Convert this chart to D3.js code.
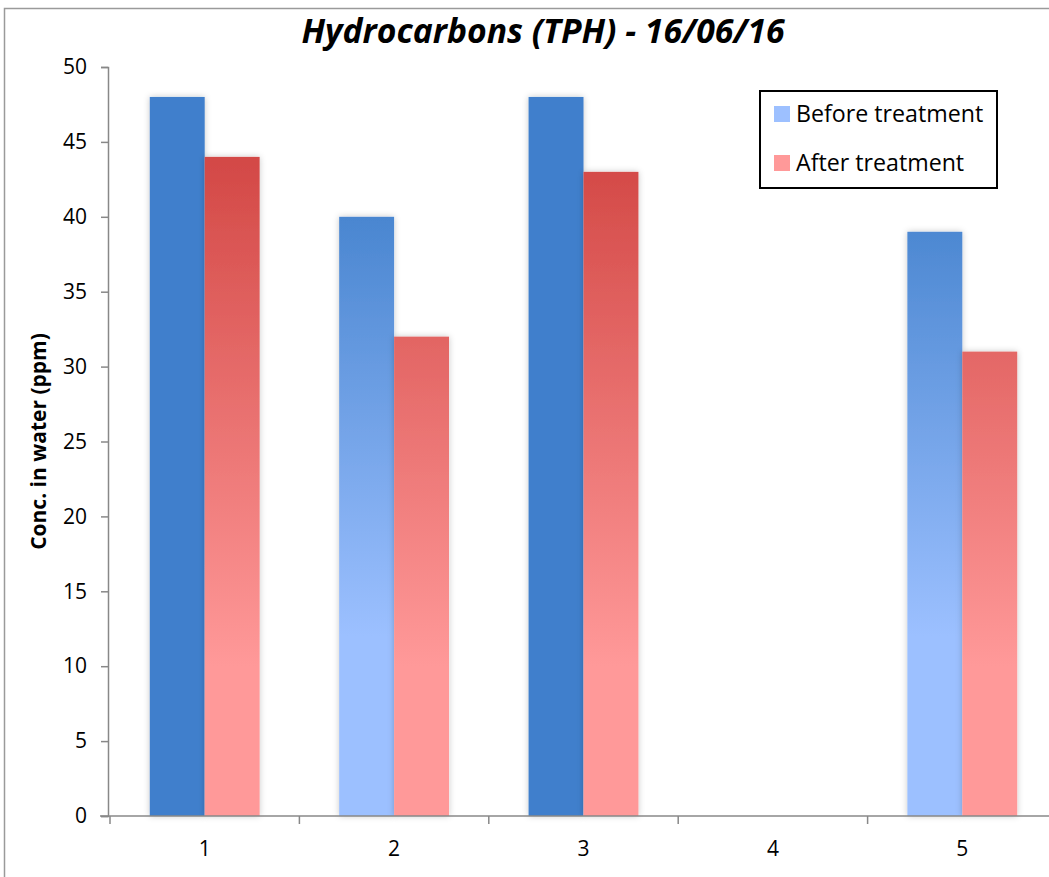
<!DOCTYPE html>
<html>
<head>
<meta charset="utf-8">
<script src="https://cdn.jsdelivr.net/npm/d3@7"></script>
<style>
  html, body { margin: 0; padding: 0; background: #fff; }
  svg { display: block; }
  text { font-family: "Open Sans", Lato, sans-serif; }
</style>
</head>
<body>
<svg id="chart" width="1049" height="877"></svg>
<script>
// Data
const categories = ["1", "2", "3", "4", "5"];
const beforeTreatment = [48, 40, 48, null, 39];
const afterTreatment = [44, 32, 43, null, 31];
const yTicks = [0, 5, 10, 15, 20, 25, 30, 35, 40, 45, 50];
const seriesNames = ["Before treatment", "After treatment"];

// Points of the first series drawn in a flat fill instead of the gradient
const flatBefore = new Set(["1", "3"]);

const svg = d3.select("#chart");
const W = 1049, H = 877;
const margin = { left: 108 };
const plotBottom = 816, plotTop = 67;

// Chart area frame
svg.append("rect")
  .attr("x", 4.5).attr("y", 8.5)
  .attr("width", W + 20).attr("height", H + 20)
  .attr("fill", "#fff").attr("stroke", "#9a9a9a").attr("stroke-width", 1.5);

const defs = svg.append("defs");

const y = d3.scaleLinear().domain([0, 50]).range([plotBottom, plotTop]);
const x = d3.scaleBand().domain(categories).range([110, 1057]).paddingInner(0.42).paddingOuter(0.21);
const xs = d3.scaleBand().domain(seriesNames).range([0, x.bandwidth()]);

// Vertical gradients spanning the value axis
const gBlue = defs.append("linearGradient").attr("id", "gBlue")
  .attr("gradientUnits", "userSpaceOnUse")
  .attr("x1", 0).attr("x2", 0).attr("y1", y(42)).attr("y2", y(12));
gBlue.append("stop").attr("offset", 0).attr("stop-color", "#4482cd");
gBlue.append("stop").attr("offset", 1).attr("stop-color", "#9cc0ff");

const gRed = defs.append("linearGradient").attr("id", "gRed")
  .attr("gradientUnits", "userSpaceOnUse")
  .attr("x1", 0).attr("x2", 0).attr("y1", y(50)).attr("y2", y(10));
gRed.append("stop").attr("offset", 0).attr("stop-color", "#cb3a37");
gRed.append("stop").attr("offset", 1).attr("stop-color", "#ff9999");

const shadow = defs.append("filter").attr("id", "shadow")
  .attr("x", "-30%").attr("y", "-10%").attr("width", "160%").attr("height", "120%");
shadow.append("feDropShadow").attr("dx", 0).attr("dy", 0).attr("stdDeviation", 3)
  .attr("flood-color", "#000").attr("flood-opacity", 0.22);

// Bars
const rows = categories.map((c, i) => ({ c, v: [beforeTreatment[i], afterTreatment[i]] }));
const groups = svg.append("g").selectAll("g").data(rows).join("g")
  .attr("transform", d => `translate(${x(d.c)},0)`);

groups.selectAll("rect")
  .data(d => d.v.map((v, k) => ({ c: d.c, v, s: seriesNames[k], k })).filter(e => e.v != null))
  .join("rect")
  .attr("x", e => xs(e.s))
  .attr("width", xs.bandwidth())
  .attr("y", e => y(e.v))
  .attr("height", e => y(0) - y(e.v))
  .attr("filter", "url(#shadow)")
  .attr("fill", e => e.k === 0 ? (flatBefore.has(e.c) ? "#3f7fcc" : "url(#gBlue)") : "url(#gRed)");

// Y axis
const yAxis = svg.append("g").attr("transform", `translate(${margin.left},0)`)
  .call(d3.axisLeft(y).tickValues(yTicks).tickSize(7).tickPadding(14));
yAxis.select(".domain").attr("stroke", "#888").attr("stroke-width", 1.5);
yAxis.selectAll(".tick line").attr("stroke", "#888").attr("stroke-width", 1.5);
yAxis.selectAll(".tick text").attr("font-size", 21).attr("fill", "#000")
  .style("font-family", "'Open Sans', sans-serif");

// X axis
const xAxis = svg.append("g").attr("transform", `translate(0,${plotBottom})`)
  .call(d3.axisBottom(x).tickSize(0).tickPadding(25));
xAxis.select(".domain").attr("stroke", "#888").attr("stroke-width", 1.5)
  .attr("d", `M${margin.left - 8},0H${W + 10}`);
xAxis.selectAll(".tick text").attr("font-size", 21).attr("fill", "#000")
  .style("font-family", "'Open Sans', sans-serif");
// category boundary ticks
const bounds = categories.map(c => x(c) - x.step() * x.paddingInner() / 2);
xAxis.selectAll(".bound").data(bounds).join("line").attr("class", "bound")
  .attr("x1", d => d).attr("x2", d => d).attr("y1", 0).attr("y2", 8)
  .attr("stroke", "#888").attr("stroke-width", 1.5);

// Title
svg.append("text")
  .attr("x", 543).attr("y", 43)
  .attr("text-anchor", "middle")
  .attr("font-size", 33.7).attr("font-weight", "bold").attr("font-style", "italic")
  .text("Hydrocarbons (TPH) - 16/06/16");

// Y axis title
svg.append("text")
  .attr("transform", `translate(46,${(plotTop + plotBottom) / 2}) rotate(-90)`)
  .attr("text-anchor", "middle")
  .attr("font-size", 21).attr("font-weight", "bold")
  .text("Conc. in water (ppm)");

// Legend
const legend = svg.append("g").attr("transform", "translate(760,91)");
legend.append("rect").attr("width", 237).attr("height", 97)
  .attr("fill", "#fff").attr("stroke", "#000").attr("stroke-width", 2);
const legendColors = ["#9dc0ff", "#ff9999"];
const li = legend.selectAll("g").data(seriesNames).join("g")
  .attr("transform", (d, i) => `translate(14,${23 + i * 49})`);
li.append("rect").attr("x", 0).attr("y", -8).attr("width", 16).attr("height", 16)
  .attr("fill", (d, i) => legendColors[i]);
li.append("text").attr("x", 22).attr("y", 8).attr("font-size", 23.2).text(d => d);
</script>
</body>
</html>
